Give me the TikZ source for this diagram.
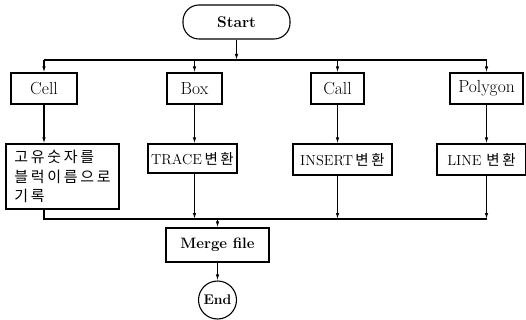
\documentclass[tikz,border=0pt]{standalone}
\usepackage{fontspec}
\newfontfamily\kofont[LetterSpace=18]{Noto Sans CJK KR}
\usetikzlibrary{arrows.meta,positioning}

\begin{document}
\begin{tikzpicture}[x=1pt,y=-1pt,
    box/.style={draw, line width=1.1pt, inner sep=0pt, minimum height=31pt},
    arr/.style={line width=1.1pt, -{Latex[length=6pt,width=3.5pt]}},
    ln/.style={line width=1.1pt}]
    \useasboundingbox (0,0) rectangle (526,320);
    % start and first row
    \node[box, rounded corners=16pt, minimum width=107pt, minimum height=34pt,
        font=\fontsize{15.5}{17}\selectfont\bfseries] (start) at (236.5,22) {Start};
    \node[box, minimum width=66pt, font=\fontsize{17.5}{19}\selectfont] (cell) at (44,88.5) {Cell};
    \node[box, minimum width=55pt, font=\fontsize{17.5}{19}\selectfont] (box) at (194.5,88.5) {Box};
    \node[box, minimum width=53pt, font=\fontsize{17.5}{19}\selectfont] (call) at (337.5,88.5) {Call};
    \node[box, minimum width=73pt, font=\fontsize{17.5}{19}\selectfont] (poly) at (486.5,88.5) {Polygon};
    % second row
    \node[box, minimum width=113pt, minimum height=65pt, align=left,
        font=\fontsize{15}{19.5}\selectfont\kofont] (cellk) at (62.5,176.5)
        {고유숫자를\\블럭이름으로\\기록};
    \node[box, minimum width=89pt, minimum height=29pt,
        font=\fontsize{14.5}{16}\selectfont] (trace) at (192.5,158.5) {TRACE\,{\kofont 변환}};
    \node[box, minimum width=99pt, font=\fontsize{14.5}{16}\selectfont] (insert) at (342.5,159.5) {INSERT\,{\kofont 변환}};
    \node[box, minimum width=89pt, font=\fontsize{14.5}{16}\selectfont] (linebox) at (481.5,159.5) {LINE {\kofont 변환}};
    % merge and end
    \node[box, minimum width=103pt, minimum height=34pt,
        font=\fontsize{15}{17}\selectfont\bfseries] (merge) at (217.5,245) {Merge file};
    \node[draw, line width=1.1pt, circle, inner sep=0pt, minimum size=38pt,
        font=\fontsize{14}{16}\selectfont\bfseries] (end) at (217.5,300) {End};
    \coordinate (top) at (236.5,60);
    \coordinate (bot) at (217.5,219);
    % connectors
    \draw[arr] (start) -- (top);
    \draw[ln] (cell.north |- top) -- (poly.north |- top);
    \foreach \n in {cell,box,call,poly}
        \draw[arr] (\n.north |- top) -- (\n.north);
    \draw[arr] (cell.south) -- (cell.south |- cellk.north);
    \foreach \a/\b in {box/trace,call/insert,poly/linebox} {
        \draw[arr] (\a.south) -- (\a.south |- \b.north);
        \draw[arr] (\b.south -| \a) -- (\a |- bot);
    }
    \draw[ln] (cellk.south -| cell) -- (cell |- bot) -- (poly |- bot);
    \draw[arr] (bot) -- (merge.north);
    \draw[arr] (merge) -- (end);
\end{tikzpicture}
\end{document}
